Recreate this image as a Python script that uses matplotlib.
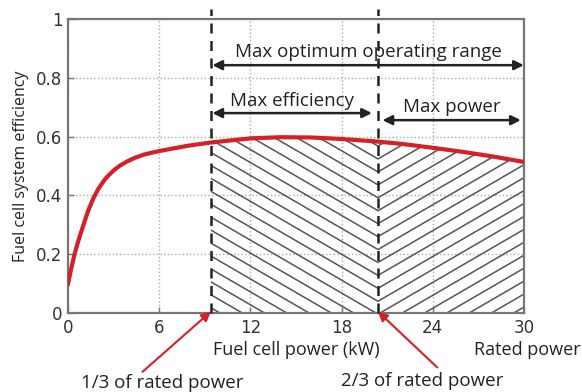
import numpy as np
import matplotlib.pyplot as plt

# efficiency curve
power = [0, 0.2, 0.45, 0.7, 1.0, 1.3, 1.66, 2.0, 2.33, 2.6, 3.0, 3.4, 3.9,
         4.4, 5.0, 6, 7.9, 9.4, 12, 14, 16, 18, 20.4, 22, 24, 26, 28, 30]
eff = [0.10, 0.15, 0.205, 0.25, 0.298, 0.345, 0.39, 0.423, 0.448, 0.465,
       0.485, 0.501, 0.516, 0.528, 0.539, 0.551, 0.569, 0.58, 0.594, 0.598,
       0.597, 0.592, 0.583, 0.575, 0.562, 0.548, 0.532, 0.514]

third = 9.4       # 1/3 of rated power (as drawn)
two_third = 20.4  # 2/3 of rated power (as drawn)
xticks = [0, 6, 12, 18, 24, 30]
yticks = [0, 0.2, 0.4, 0.6, 0.8, 1]

txt_font = 'Open Sans'
red = '#d42027'
gray = '#555555'
dark = '#222222'

fig = plt.figure(figsize=(5.82, 3.92), dpi=100)
ax = fig.add_axes([0.117, 0.2015, 0.783, 0.75])

ax.set_xlim(0, 30)
ax.set_ylim(0, 1)
ax.set_xticks(xticks)
ax.set_yticks(yticks)
ax.set_yticklabels(['0', '0.2', '0.4', '0.6', '0.8', '1'])
ax.tick_params(direction='in', length=4, width=1, colors='#777777',
               labelcolor='#333333', labelsize=12, pad=4)
ax.grid(True, linestyle=':', color='#aaaaaa', linewidth=1)
for s in ax.spines.values():
    s.set_color('#777777')
    s.set_linewidth(1.6)

# hatched regions under the curve
p = np.array(power)
e = np.array(eff)
mask_l = (p >= third) & (p <= two_third)
mask_r = p >= two_third
poly_l = ax.fill_between(p[mask_l], 0, e[mask_l], facecolor='none', edgecolor='none')
poly_r = ax.fill_between(p[mask_r], 0, e[mask_r], facecolor='none', edgecolor='none')

slope = 0.03   # y per kW, about 0.6 in pixel terms
step = 0.044
xs_l = np.array([third, two_third])
xs_r = np.array([two_third, 30])
for c in np.arange(-0.4, 0.7, step):
    ln, = ax.plot(xs_l, c + slope * (two_third - xs_l), color=gray, lw=1.1, zorder=2)
    ln.set_clip_path(poly_l.get_paths()[0], ax.transData)
    ln, = ax.plot(xs_r, c + slope * (xs_r - two_third), color=gray, lw=1.1, zorder=2)
    ln.set_clip_path(poly_r.get_paths()[0], ax.transData)

ax.plot(power, eff, color=red, lw=3, zorder=4, solid_joinstyle='round')

for xv in [third, two_third]:
    ax.plot([xv, xv], [0, 1.035], color=dark, lw=1.8, ls=(0, (4, 3)),
            clip_on=False, zorder=5)

# range arrows
def span(x0, x1, y, label, ty):
    ax.annotate('', xy=(x0, y), xytext=(x1, y),
                arrowprops=dict(arrowstyle='<|-|>', color=dark, lw=1.8,
                                mutation_scale=14, shrinkA=0, shrinkB=0))
    ax.text((x0 + x1) / 2, ty, label, ha='center', va='center',
            fontsize=13.5, family=txt_font, color=dark)

span(third + 0.1, 30, 0.843, 'Max optimum operating range', 0.887)
span(third + 0.1, two_third - 0.4, 0.68, 'Max efficiency', 0.72)
span(two_third + 0.3, 29.8, 0.656, 'Max power', 0.70)

ax.set_xlabel('Fuel cell power (kW)', family=txt_font, fontsize=13, labelpad=3,
              color=dark)
ax.set_ylabel('Fuel cell system efficiency', family=txt_font, fontsize=11.5,
              labelpad=5, color=dark)

ax.text(26.7, -0.125, 'Rated power', family=txt_font, fontsize=13,
        ha='left', va='center', color=dark, clip_on=False)

# red pointers
ax.annotate('', xy=(third, 0.005), xytext=(4.9, -0.20), annotation_clip=False,
            arrowprops=dict(arrowstyle='-|>', color=red, lw=1.5,
                            mutation_scale=14, shrinkA=0, shrinkB=0))
ax.text(6.2, -0.238, '1/3 of rated power', family=txt_font, fontsize=13.5,
        ha='center', va='center', color=dark, clip_on=False)
ax.annotate('', xy=(two_third, 0.005), xytext=(24.3, -0.185), annotation_clip=False,
            arrowprops=dict(arrowstyle='-|>', color=red, lw=1.5,
                            mutation_scale=14, shrinkA=0, shrinkB=0))
ax.text(23.3, -0.23, '2/3 of rated power', family=txt_font, fontsize=13.5,
        ha='center', va='center', color=dark, clip_on=False)

fig.savefig('out.png', dpi=100)
